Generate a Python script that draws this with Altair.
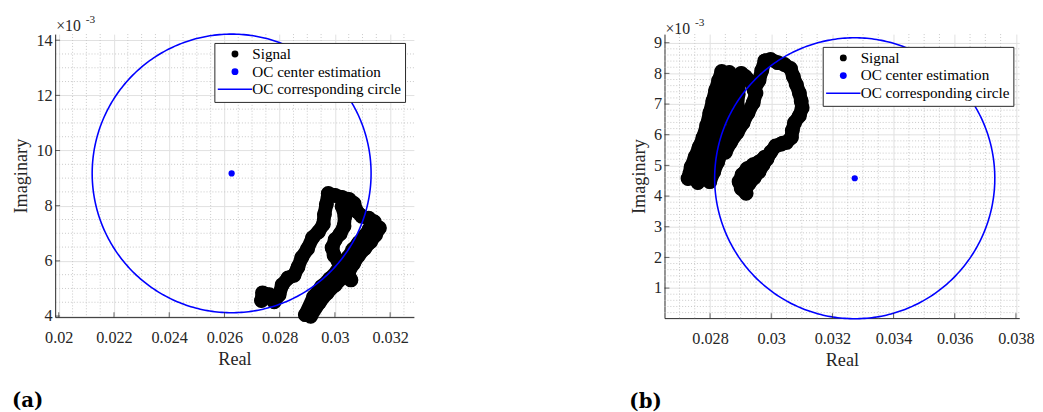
import altair as alt
import numpy as np
import pandas as pd

SERIES = ["Signal", "OC center estimation", "OC corresponding circle"]
SERIES_COLORS = ["#000000", "#0000ff", "#0000ff"]
LINE_PATH = "M-5,-0.21H5V0.21H-5Z"
SERIES_SHAPES = ["circle", "circle", LINE_PATH]

FONT = "Liberation Serif"
INK = "#262626"

# ---------------- panel (a) ----------------
A_XLIM = [0.01987, 0.03286]
A_YLIM = [3.96, 14.22]          # x 10^-3
A_YTOP = 14.22                  # top of the drawn frame
A_XTICKS = [0.020, 0.022, 0.024, 0.026, 0.028, 0.030, 0.032]
A_YTICKS = [4, 6, 8, 10, 12, 14]
A_XMINOR = 0.0005
A_YMINOR = 0.5
A_CENTER = [0.02626, 9.17]
A_RADIUS = 5.05                 # x 10^-3

# signal strands, real and imaginary parts in units of 10^-3
A_S1_X = [27.34, 27.38, 27.63, 27.80, 27.98, 28.09, 28.30, 28.52, 28.66, 28.80, 29.01, 29.19, 29.40,
          29.58, 29.62, 29.69, 29.76, 30.01, 30.26, 30.51, 30.69, 30.79, 30.97, 31.22, 31.43, 31.47]
A_S1_Y = [4.56, 4.84, 4.77, 4.52, 4.77, 5.13, 5.38, 5.48, 5.77, 6.12, 6.44, 6.84, 7.05,
          7.33, 7.69, 8.05, 8.44, 8.37, 8.30, 8.23, 8.08, 7.80, 7.62, 7.55, 7.41, 7.12]
A_S2_X = [30.26, 30.36, 30.33, 30.19, 30.01, 29.90, 29.97, 30.12, 30.33, 30.47, 30.58]
A_S2_Y = [7.98, 7.62, 7.26, 6.98, 6.77, 6.48, 6.20, 5.98, 5.84, 5.59, 5.31]
A_S3_X = [28.93, 29.23, 29.51, 29.80, 30.08, 30.29, 30.47, 30.65, 30.86, 31.08, 31.25, 31.40]
A_S3_Y = [4.05, 4.70, 5.06, 5.34, 5.63, 5.84, 6.12, 6.41, 6.66, 6.91, 7.16, 7.41]
A_S4_X = [29.12, 29.44, 29.72, 30.01, 30.29, 30.51, 30.68, 30.86, 31.08, 31.29, 31.47, 31.61]
A_S4_Y = [3.99, 4.49, 4.84, 5.13, 5.41, 5.63, 5.91, 6.20, 6.45, 6.69, 6.94, 7.19]

# ---------------- panel (b) ----------------
B_XLIM = [0.02651, 0.03811]
B_YLIM = [0.02, 9.28]
B_YTOP = 9.15
B_XTICKS = [0.028, 0.030, 0.032, 0.034, 0.036, 0.038]
B_YTICKS = [1, 2, 3, 4, 5, 6, 7, 8, 9]
B_XMINOR = 0.0005
B_YMINOR = 0.2
B_CENTER = [0.03273, 4.58]
B_RADIUS = 4.58

B_S1_X = [27.28, 27.38, 27.51, 27.64, 27.77, 27.89, 27.99, 28.09, 28.18, 28.28, 28.38]
B_S1_Y = [4.57, 4.95, 5.27, 5.59, 5.91, 6.30, 6.71, 7.10, 7.45, 7.77, 8.06]
B_S2_X = [27.60, 27.73, 27.86, 27.99, 28.12, 28.25, 28.38, 28.47, 28.54, 28.60, 28.63]
B_S2_Y = [4.44, 4.76, 5.08, 5.43, 5.75, 6.14, 6.55, 6.94, 7.32, 7.68, 8.03]
B_S3_X = [27.99, 28.12, 28.25, 28.41, 28.57, 28.73, 28.83, 28.89, 28.92, 28.95, 29.02]
B_S3_Y = [4.47, 4.79, 5.11, 5.50, 5.82, 6.17, 6.55, 6.94, 7.32, 7.71, 8.00]
B_S4_X = [28.50, 28.67, 28.89, 29.08, 29.24, 29.41, 29.50, 29.37, 29.15]
B_S4_Y = [5.43, 5.75, 6.07, 6.39, 6.71, 7.04, 7.36, 7.68, 7.90]
B_S5_X = [29.44, 29.60, 29.69, 29.79, 29.98, 30.21, 30.43, 30.63, 30.72, 30.82, 30.92, 30.98, 31.01,
          30.92, 30.76, 30.69, 30.66, 30.50, 30.31]
B_S5_Y = [7.45, 7.77, 8.09, 8.41, 8.45, 8.35, 8.29, 8.16, 7.90, 7.64, 7.36, 7.10, 6.88,
          6.62, 6.39, 6.14, 5.91, 5.75, 5.69]
B_S6_X = [30.37, 30.14, 29.98, 29.86, 29.73, 29.60, 29.44, 29.28, 29.15]
B_S6_Y = [5.72, 5.63, 5.43, 5.21, 5.02, 4.79, 4.60, 4.41, 4.21]
B_S7_X = [29.79, 29.60, 29.41, 29.21, 29.05, 28.95, 29.02, 29.18]
B_S7_Y = [5.27, 5.11, 5.02, 4.89, 4.70, 4.47, 4.25, 4.09]


def minor_values(lo, hi, step, majors):
    start = np.ceil(lo / step) * step
    vals = np.round(np.arange(start, hi, step), 8)
    return [float(v) for v in vals if not any(abs(v - m) < step / 10 for m in majors)]


def panel(strands, center, radius, xlim, ylim, ytop, xticks, yticks, xstep, ystep,
          w, h, label, lx, ly, sup_dy):
    rows = []
    for k, (xs, ys) in enumerate(strands):
        for i, (xv, yv) in enumerate(zip(xs, ys)):
            rows.append({"x": xv / 1000.0, "y": yv, "strand": k, "i": i, "series": "Signal"})
    sig = pd.DataFrame(rows)
    cen = pd.DataFrame({"x": [center[0]], "y": [center[1]], "series": ["OC center estimation"]})
    t = np.linspace(0, 2 * np.pi, 361)
    circ = pd.DataFrame({"x": center[0] + radius / 1000.0 * np.cos(t),
                         "y": center[1] + radius * np.sin(t),
                         "i": np.arange(361)})

    common = dict(grid=True, ticks=False, tickSize=0, labelFlush=False, labelOverlap=False,
                  labelFont=FONT, titleFont=FONT, labelFontSize=16.5, titleFontSize=18.5,
                  labelColor=INK, titleColor=INK, titleFontWeight="normal",
                  domainColor=INK, domainWidth=1, gridColor="#e0e0e0", gridWidth=1)
    xs_ = alt.Scale(domain=xlim, nice=False, zero=False)
    ys_ = alt.Scale(domain=ylim, nice=False, zero=False)
    xaxis = alt.Axis(values=xticks, format="~g", title="Real",
                     labelPadding=13, titlePadding=4, **common)
    yaxis = alt.Axis(values=yticks, format="d", title="Imaginary",
                     labelPadding=3, titlePadding=5.5, **common)
    X = alt.X("x:Q", scale=xs_, axis=xaxis)
    Y = alt.Y("y:Q", scale=ys_, axis=yaxis)

    def XD(v):
        return alt.XDatum(v, type="quantitative", scale=xs_, axis=xaxis)

    def YD(v):
        return alt.YDatum(v, type="quantitative", scale=ys_, axis=yaxis)

    leg = alt.Legend(title=None, orient="none", legendX=lx, legendY=ly, fillColor="white",
                     strokeColor=INK, padding=3.5, labelFont=FONT, labelFontSize=15.4,
                     labelColor="black", symbolSize=49, symbolStrokeWidth=0,
                     symbolOffset=9.75, labelOffset=10, rowPadding=1, labelLimit=0)
    color = alt.Color("series:N", scale=alt.Scale(domain=SERIES, range=SERIES_COLORS), legend=leg)
    shape = alt.Shape("series:N", scale=alt.Scale(domain=SERIES, range=SERIES_SHAPES), legend=leg)

    minx = alt.Chart(pd.DataFrame({"x": minor_values(xlim[0], xlim[1], xstep, xticks)})).mark_rule(
        color="#c8c8c8", strokeDash=[1, 2], strokeWidth=1).encode(x=X)
    miny = alt.Chart(pd.DataFrame({"y": minor_values(ylim[0], ytop, ystep, yticks)})).mark_rule(
        color="#c8c8c8", strokeDash=[1, 2], strokeWidth=1).encode(y=Y)

    sig_line = alt.Chart(sig).mark_line(color="black", strokeWidth=14, strokeCap="round",
                                        strokeJoin="round").encode(
        x=X, y=Y, detail="strand:N", order="i:Q")
    sig_pts = alt.Chart(sig).mark_point(filled=True, size=230, opacity=1, strokeWidth=0).encode(
        x=X, y=Y, color=color, shape=shape)
    circle = alt.Chart(circ).mark_line(color="#0000ff", strokeWidth=1.6).encode(
        x=X, y=Y, order="i:Q")
    cen_pt = alt.Chart(cen).mark_point(filled=True, size=40, opacity=1, strokeWidth=0).encode(
        x=X, y=Y, color=color, shape=shape)

    xt = alt.Chart(pd.DataFrame({"x": xticks})).mark_tick(
        orient="vertical", size=5, thickness=1, color=INK, yOffset=-2.5).encode(
        x=X, y=YD(ylim[0]))
    yt = alt.Chart(pd.DataFrame({"y": yticks})).mark_tick(
        orient="horizontal", size=5, thickness=1, color=INK, xOffset=2.5).encode(
        y=Y, x=XD(xlim[0]))

    one = pd.DataFrame({"k": [0]})
    t10 = alt.Chart(one).mark_text(text="\u00d710", font=FONT, fontSize=16, color=INK,
                                   align="left", baseline="alphabetic", dx=1, dy=sup_dy).encode(
        x=XD(xlim[0]), y=YD(ytop))
    t3 = alt.Chart(one).mark_text(text="-3", font=FONT, fontSize=11.5, color=INK,
                                  align="left", baseline="alphabetic", dx=31, dy=sup_dy - 8).encode(
        x=XD(xlim[0]), y=YD(ytop))

    return alt.layer(minx, miny, sig_line, sig_pts, circle, cen_pt, xt, yt, t10, t3).properties(
        width=w, height=h,
        title=alt.TitleParams(label, orient="bottom", anchor="start", font="DejaVu Serif",
                              fontSize=20, fontWeight="bold", color="black", offset=23))


chart_a = panel([(A_S1_X, A_S1_Y), (A_S2_X, A_S2_Y), (A_S3_X, A_S3_Y), (A_S4_X, A_S4_Y)],
                A_CENTER, A_RADIUS, A_XLIM, A_YLIM, A_YTOP, A_XTICKS, A_YTICKS, A_XMINOR, A_YMINOR,
                365, 288, "(a)", 162, 9, -3)
chart_b = panel([(B_S1_X, B_S1_Y), (B_S2_X, B_S2_Y), (B_S3_X, B_S3_Y), (B_S4_X, B_S4_Y),
                 (B_S5_X, B_S5_Y), (B_S6_X, B_S6_Y), (B_S7_X, B_S7_Y)],
                B_CENTER, B_RADIUS, B_XLIM, B_YLIM, B_YTOP, B_XTICKS, B_YTICKS, B_XMINOR, B_YMINOR,
                361, 289, "(b)", 161, 13, -4)

chart = alt.hconcat(chart_a, chart_b, spacing=218).resolve_scale(
    x="independent", y="independent", color="independent", shape="independent"
).resolve_legend(color="independent", shape="independent").properties(
    padding={"left": 4, "top": 3, "right": 0, "bottom": 0}
).configure_view(stroke=None)

chart.save("out.html", embed_options={"renderer": "svg", "actions": False})
